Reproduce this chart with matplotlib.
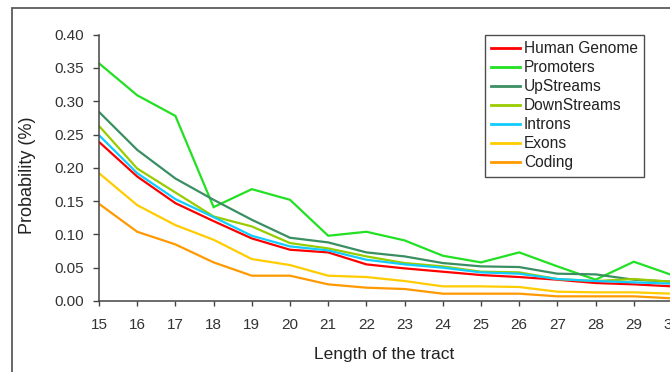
import matplotlib.pyplot as plt
from matplotlib.patches import Rectangle

plt.rcParams['font.family'] = ['Liberation Sans', 'DejaVu Sans']

# tract length 15..30
lengths = [15, 16, 17, 18, 19, 20, 21, 22, 23, 24, 25, 26, 27, 28, 29, 30]

human_genome = [0.239, 0.187, 0.147, 0.120, 0.094, 0.077, 0.073, 0.055, 0.049,
                0.044, 0.039, 0.036, 0.032, 0.027, 0.025, 0.022]
promoters = [0.357, 0.309, 0.278, 0.141, 0.168, 0.152, 0.098, 0.104, 0.091,
             0.068, 0.058, 0.073, 0.052, 0.032, 0.059, 0.039]
upstreams = [0.284, 0.227, 0.184, 0.152, 0.122, 0.095, 0.088, 0.073, 0.067,
             0.057, 0.052, 0.051, 0.041, 0.040, 0.032, 0.029]
downstreams = [0.263, 0.199, 0.163, 0.127, 0.112, 0.087, 0.079, 0.067, 0.057,
               0.052, 0.044, 0.043, 0.033, 0.030, 0.033, 0.029]
introns = [0.249, 0.192, 0.153, 0.126, 0.098, 0.082, 0.076, 0.062, 0.055,
           0.050, 0.043, 0.041, 0.033, 0.030, 0.028, 0.026]
exons = [0.192, 0.144, 0.114, 0.092, 0.063, 0.054, 0.038, 0.036, 0.030,
         0.022, 0.022, 0.021, 0.014, 0.013, 0.013, 0.011]
coding = [0.146, 0.104, 0.085, 0.058, 0.038, 0.038, 0.025, 0.020, 0.018,
          0.011, 0.011, 0.011, 0.007, 0.007, 0.007, 0.004]

series = [
    ('Human Genome', human_genome, '#ff0000'),
    ('Promoters', promoters, '#22e022'),
    ('UpStreams', upstreams, '#3a8f62'),
    ('DownStreams', downstreams, '#99cc00'),
    ('Introns', introns, '#11ccff'),
    ('Exons', exons, '#ffcc00'),
    ('Coding', coding, '#ff9900'),
]

W, H = 670, 372
fig = plt.figure(figsize=(W / 100, H / 100), dpi=100)

# outer chart border (runs off the right and bottom edges)
fig.patches.append(Rectangle((12 / W, -0.1), 1.2, 1 - 8 / H + 0.1,
                             transform=fig.transFigure, fill=False,
                             edgecolor='#5a5a5a', linewidth=1.3))

x0, x1 = 99, 672
y_top, y_bot = 34.7, 301
ax = fig.add_axes([x0 / W, 1 - y_bot / H, (x1 - x0) / W, (y_bot - y_top) / H])

for name, vals, color in series:
    ax.plot(lengths, vals, color=color, linewidth=1.6, label=name,
            solid_joinstyle='miter')

ax.set_xlim(15, 30)
ax.set_ylim(0, 0.40)
ax.set_xticks(lengths)
ax.set_yticks([i * 0.05 for i in range(9)])
ax.set_yticklabels([f'{i * 0.05:.2f}' for i in range(9)])

for side in ('top', 'right'):
    ax.spines[side].set_visible(False)
for side in ('left', 'bottom'):
    ax.spines[side].set_color('#444444')
    ax.spines[side].set_linewidth(1.1)

ax.tick_params(axis='x', length=3.5, width=1, color='#444444', pad=8.5,
               labelsize=11, labelcolor='#333333')
ax.tick_params(axis='y', length=4.5, width=1, color='#444444', pad=6,
               labelsize=11, labelcolor='#333333')

fig.text(384 / W, 1 - 354 / H, 'Length of the tract', ha='center', va='center',
         fontsize=12.5, color='#222222')
fig.text(28 / W, 1 - 175 / H, 'Probability (%)', ha='center', va='center',
         rotation=90, fontsize=13, color='#222222')

leg = ax.legend(loc='upper left', bbox_to_anchor=(485 / W, 1 - 35 / H),
                bbox_transform=fig.transFigure, fontsize=11.2, frameon=True,
                fancybox=False, shadow=False, borderpad=0.4,
                handlelength=1.85, handletextpad=0.25, labelspacing=0.26,
                borderaxespad=0)
leg.get_frame().set_edgecolor('#222222')
leg.get_frame().set_linewidth(1.0)
for t in leg.get_texts():
    t.set_color('#222222')
for h in leg.get_lines():
    h.set_linewidth(2.0)

fig.savefig('out.png', dpi=100)
